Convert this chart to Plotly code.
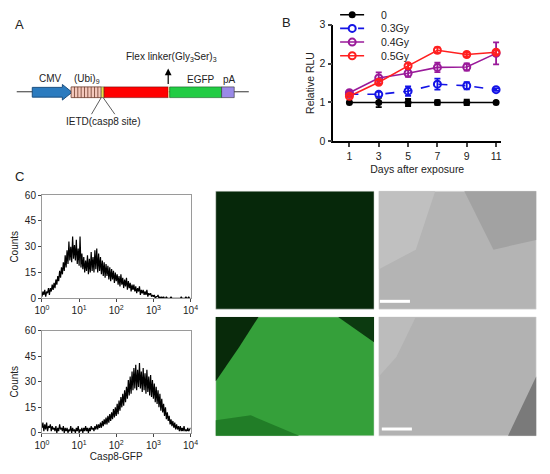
import plotly.graph_objects as go

W, H = 550, 474
FONT = "Arial, Liberation Sans, sans-serif"

# ---------------- Panel B data ----------------
days = [1, 3, 5, 7, 9, 11]
series_names = ["0", "0.3Gy", "0.4Gy", "0.5Gy"]
rlu_0 = [1.0, 1.0, 1.0, 1.0, 1.0, 1.0]
err_0 = [0.0, 0.12, 0.09, 0.06, 0.07, 0.0]
rlu_03 = [1.21, 1.21, 1.29, 1.47, 1.43, 1.33]
err_03 = [0.03, 0.06, 0.12, 0.14, 0.09, 0.03]
rlu_04 = [1.25, 1.63, 1.75, 1.90, 1.91, 2.26]
err_04 = [0.04, 0.14, 0.09, 0.12, 0.09, 0.28]
rlu_05 = [1.16, 1.52, 1.94, 2.34, 2.23, 2.29]
err_05 = [0.03, 0.05, 0.06, 0.07, 0.05, 0.05]

# ---------------- Panel C histogram data ----------------
# fluorescence channels given as log10 exponents (step 0.025 from 0 to 4)
hist_exp = [round(0.025 * i, 3) for i in range(161)]
counts_ctrl = [1, 4, 2, 5, 1, 4, 3, 6, 2, 6, 4, 8, 5,
               9, 6, 11, 8, 13, 10, 16, 12,
               18, 14, 21, 16, 25, 18, 28, 20,
               33, 22, 30, 21, 36, 23, 31, 22,
               34, 20, 29, 19, 36, 18, 26, 17,
               24, 15, 22, 16, 25, 14, 23, 15,
               27, 16, 24, 15, 28, 17, 29, 15, 26, 16, 24, 14,
               22, 13, 21, 12, 20, 13, 19, 11, 18, 10, 17, 11, 16, 9, 15, 10,
               14, 8, 13, 7, 14, 8, 12, 6, 11, 7, 12, 5, 10, 6, 9, 4, 8, 5, 8, 4,
               7, 3, 6, 4, 7, 2, 5, 3, 5, 2, 4, 2, 5, 1, 3, 2, 3, 1, 2, 1,
               2, 0, 1, 1, 2, 0, 1, 0, 1, 0, 1, 0, 0, 1, 0, 0,
               0, 0, 1, 0, 0, 0, 0, 0, 0, 0, 0, 0, 0, 1, 0, 0, 0, 0, 1, 0, 0, 1, 0, 0]
counts_irr = [3, 6, 1, 5, 2, 6, 1, 4, 3, 5,
              1, 4, 2, 3, 1, 4, 0, 3, 1, 5,
              2, 3, 1, 4, 0, 3, 1, 3, 0, 2,
              1, 4, 0, 3, 1, 2, 0, 3, 1, 4,
              0, 2, 1, 3, 0, 3, 1, 4, 1, 3,
              0, 3, 1, 4, 2, 3, 1, 4, 2, 5, 2,
              5, 3, 6, 3, 7, 4, 8, 5, 9, 5, 10, 6, 11, 7, 12, 8, 14, 9, 15, 10,
              17, 11, 19, 13, 21, 15, 23, 16, 25, 18, 27, 20, 31, 22, 33, 23, 36, 25, 38, 26,
              40, 25, 37, 27, 41, 26, 36, 24, 38, 25, 35, 23, 37, 24, 33, 22, 34, 21, 31, 20,
              29, 18, 27, 17, 25, 15, 23, 13, 20, 12, 17, 10, 15, 8, 12, 7, 10, 5, 8, 4,
              7, 3, 6, 2, 5, 2, 4, 1, 4, 1, 3, 1, 4, 1, 2, 1, 3, 1, 2, 3]
hist_tickvals = [1, 10, 100, 1000, 10000]
hist_ticktext = ["10<sup>0</sup>", "10<sup>1</sup>", "10<sup>2</sup>", "10<sup>3</sup>", "10<sup>4</sup>"]
hist_x = [10 ** e for e in hist_exp]


def fx(p):
    return p / W


def fy(p):
    return 1 - p / H


fig = go.Figure()

# ---- Panel B traces ----
styles = [
    dict(color="black", dash="solid", symbol="circle", msize=5),
    dict(color="#1414e6", dash="dash", symbol="circle-open", msize=7),
    dict(color="#9a1a9a", dash="solid", symbol="circle-open", msize=7),
    dict(color="#ff2020", dash="solid", symbol="circle-open", msize=7),
]
vals = [rlu_0, rlu_03, rlu_04, rlu_05]
errs = [err_0, err_03, err_04, err_05]
for name, v, e, s in zip(series_names, vals, errs, styles):
    fig.add_trace(go.Scatter(
        x=days, y=v, name=name, mode="lines+markers", showlegend=False,
        line=dict(color=s["color"], width=1.6, dash=s["dash"]),
        marker=dict(symbol=s["symbol"], size=s["msize"], color=s["color"],
                    line=dict(color=s["color"], width=2)),
        error_y=dict(type="data", array=e, visible=True, color=s["color"],
                     thickness=1.8, width=3),
        xaxis="x", yaxis="y", cliponaxis=False,
    ))

# ---- compact legend for panel B (sample line per series, one row each) ----
for i, (name, s) in enumerate(zip(series_names, styles)):
    fig.add_trace(go.Scatter(
        x=[0, 0.5, 1], y=[i, i, i], mode="lines", showlegend=False, hoverinfo="skip",
        line=dict(color=s["color"], width=1.6, dash=s["dash"]),
        xaxis="x4", yaxis="y4", cliponaxis=False))
    fig.add_trace(go.Scatter(
        x=[0.5], y=[i], mode="markers", showlegend=False, hoverinfo="skip",
        marker=dict(symbol=s["symbol"], size=s["msize"], color=s["color"],
                    line=dict(color=s["color"], width=2)),
        xaxis="x4", yaxis="y4", cliponaxis=False))
    fig.add_annotation(x=382 / W, y=i, xref="paper", yref="y4", text=name,
                       showarrow=False, xanchor="left", yanchor="middle",
                       font=dict(family=FONT, size=10.5, color="#222"))

# ---- Panel C histograms ----
fig.add_trace(go.Scatter(x=hist_x, y=counts_ctrl, mode="lines", showlegend=False,
                         line=dict(color="black", width=1.2), xaxis="x2", yaxis="y2"))
fig.add_trace(go.Scatter(x=hist_x, y=counts_irr, mode="lines", showlegend=False,
                         line=dict(color="black", width=1.2), xaxis="x3", yaxis="y3"))

tickfont = dict(family=FONT, size=10, color="#222")

hist_x_axis = dict(type="log", range=[0, 4], tickvals=hist_tickvals, ticktext=hist_ticktext,
                   showline=True, mirror=True, linecolor="#9a9a9a", linewidth=1,
                   ticks="outside", ticklen=3, tickcolor="#444", showgrid=False,
                   zeroline=False, tickfont=tickfont)
hist_y_axis = dict(range=[0, 60], tickvals=[0, 15, 30, 45, 60], showline=True, mirror=True,
                   linecolor="#9a9a9a", linewidth=1, ticks="outside", ticklen=3,
                   tickcolor="#444", showgrid=False, zeroline=False, tickfont=tickfont,
                   title=dict(text="Counts", font=dict(family=FONT, size=10, color="#222"),
                              standoff=4))

fig.update_layout(
    width=W, height=H, margin=dict(l=0, r=0, t=0, b=0),
    paper_bgcolor="white", plot_bgcolor="white",
    font=dict(family=FONT, size=10, color="#222"),
    showlegend=False,
    xaxis=dict(domain=[fx(335), fx(508)], range=[-0.1, 11.35], tickvals=days,
               showline=True, linecolor="black", linewidth=1.5, ticks="outside",
               ticklen=4, tickwidth=1.5, showgrid=False, zeroline=False,
               tickfont=dict(family=FONT, size=10.5, color="#222"),
               title=dict(text="Days after exposure", standoff=5,
                          font=dict(family=FONT, size=10.5, color="#222"))),
    yaxis=dict(domain=[fy(139), fy(19)], range=[0, 3], tickvals=[0, 1, 2, 3],
               showline=True, linecolor="black", linewidth=1.5, ticks="outside",
               ticklen=4, tickwidth=1.5, showgrid=False, zeroline=False,
               tickfont=dict(family=FONT, size=10.5, color="#222"),
               title=dict(text="Relative RLU", standoff=3,
                          font=dict(family=FONT, size=10.5, color="#222"))),
    xaxis2=dict(hist_x_axis, domain=[fx(35), fx(188)], anchor="y2"),
    yaxis2=dict(hist_y_axis, domain=[fy(300), fy(194)], anchor="x2"),
    xaxis3=dict(hist_x_axis, domain=[fx(35), fx(188)], anchor="y3",
                title=dict(text="Casp8-GFP", standoff=2,
                           font=dict(family=FONT, size=10, color="#222"))),
    yaxis3=dict(hist_y_axis, domain=[fy(438), fy(333)], anchor="x3"),
    xaxis4=dict(domain=[fx(342), fx(367)], range=[0, 1], visible=False, anchor="y4"),
    yaxis4=dict(domain=[fy(58), fy(2)], range=[3.5, -0.5], visible=False, anchor="x4"),
)

shapes = []


def rect(x0, y0, x1, y1, fill, line="rgba(0,0,0,0)", lw=0):
    shapes.append(dict(type="rect", xref="paper", yref="paper", x0=fx(x0), x1=fx(x1),
                       y0=fy(y1), y1=fy(y0), fillcolor=fill,
                       line=dict(color=line, width=lw), layer="above"))


def line(x0, y0, x1, y1, color="black", lw=1):
    shapes.append(dict(type="line", xref="paper", yref="paper", x0=fx(x0), x1=fx(x1),
                       y0=fy(y0), y1=fy(y1), line=dict(color=color, width=lw), layer="above"))


def path(pts, fill, color="rgba(0,0,0,0)", lw=0):
    d = "M " + " L ".join(f"{fx(a):.5f},{fy(b):.5f}" for a, b in pts) + " Z"
    shapes.append(dict(type="path", xref="paper", yref="paper", path=d, fillcolor=fill,
                       line=dict(color=color, width=lw), layer="above"))


# ---- Panel A construct diagram ----
line(9, 88, 248, 88, "#333", 1)
path([(25, 83.5), (56, 83.5), (56, 80.5), (66, 88.5), (56, 96.5), (56, 93.5), (25, 93.5)],
     "#2b7bbf", "#1a4f80", 1)
rect(65, 83, 96, 94, "#f4c8bc", "#6b3a2a", 0.8)
for i in range(1, 9):
    xs = 65 + i * 31 / 9
    line(xs, 83, xs, 94, "#6b3a2a", 0.8)
rect(96, 83, 99, 94, "#e8e040", "#555", 0.6)
rect(99, 83, 165, 94, "#ff0000", "#700", 0.6)
rect(165, 83, 166.5, 94, "#f0d090")
rect(166.5, 83, 220, 94, "#22cc44", "#0a5a1a", 0.6)
rect(220, 83, 233, 94, "#9a8ae8", "#333", 0.6)
line(165, 80, 165, 70, "black", 1.2)
path([(161.5, 71), (165, 64), (168.5, 71)], "black")
line(96, 94, 86, 111, "#333", 0.8)
line(98, 94, 110, 111, "#333", 0.8)

# ---- Panel C micrographs (schematic fills) ----
rect(214, 190, 377, 311, "#06280a", "#ddd", 0.5)
rect(382, 190, 544, 311, "#b4b4b4", "#ddd", 0.5)
path([(382, 190), (440, 190), (420, 250), (382, 270)], "#c0c0c0")
path([(470, 190), (544, 190), (544, 240), (500, 250)], "#a2a2a2")
rect(214, 319, 377, 441, "#35a03a", "#ddd", 0.5)
path([(214, 319), (258, 319), (238, 350), (214, 385)], "#082a0a")
path([(340, 319), (377, 319), (377, 345)], "#0c3a10")
path([(214, 441), (300, 441), (250, 420), (214, 425)], "#217d27")
rect(382, 319, 544, 441, "#b2b2b2", "#ddd", 0.5)
path([(382, 319), (420, 319), (400, 360), (382, 380)], "#bcbcbc")
path([(544, 380), (544, 441), (515, 441)], "#7a7a7a")
line(383, 303, 414, 303, "white", 3)
line(385, 434, 416, 434, "white", 3)

fig.update_layout(shapes=shapes)


# ---- Text annotations ----
def text(x, y, s, size=10, xanchor="center", color="#222"):
    fig.add_annotation(x=fx(x), y=fy(y), xref="paper", yref="paper", text=s,
                       showarrow=False, xanchor=xanchor, yanchor="middle",
                       font=dict(family=FONT, size=size, color=color))


text(5, 19, "A", 13, "left")
text(280, 17, "B", 13, "left")
text(5, 175, "C", 13, "left")
text(44, 74, "CMV")
text(81, 75, "(Ubi)<sub>9</sub>")
text(199, 75, "EGFP")
text(228, 75, "pA")
text(168, 52, "Flex linker(Gly<sub>3</sub>Ser)<sub>3</sub>")
text(98, 119, "IETD(casp8 site)")

fig.write_html("out.html", config={"displayModeBar": False},
               post_script="document.body.style.margin='0px';")
